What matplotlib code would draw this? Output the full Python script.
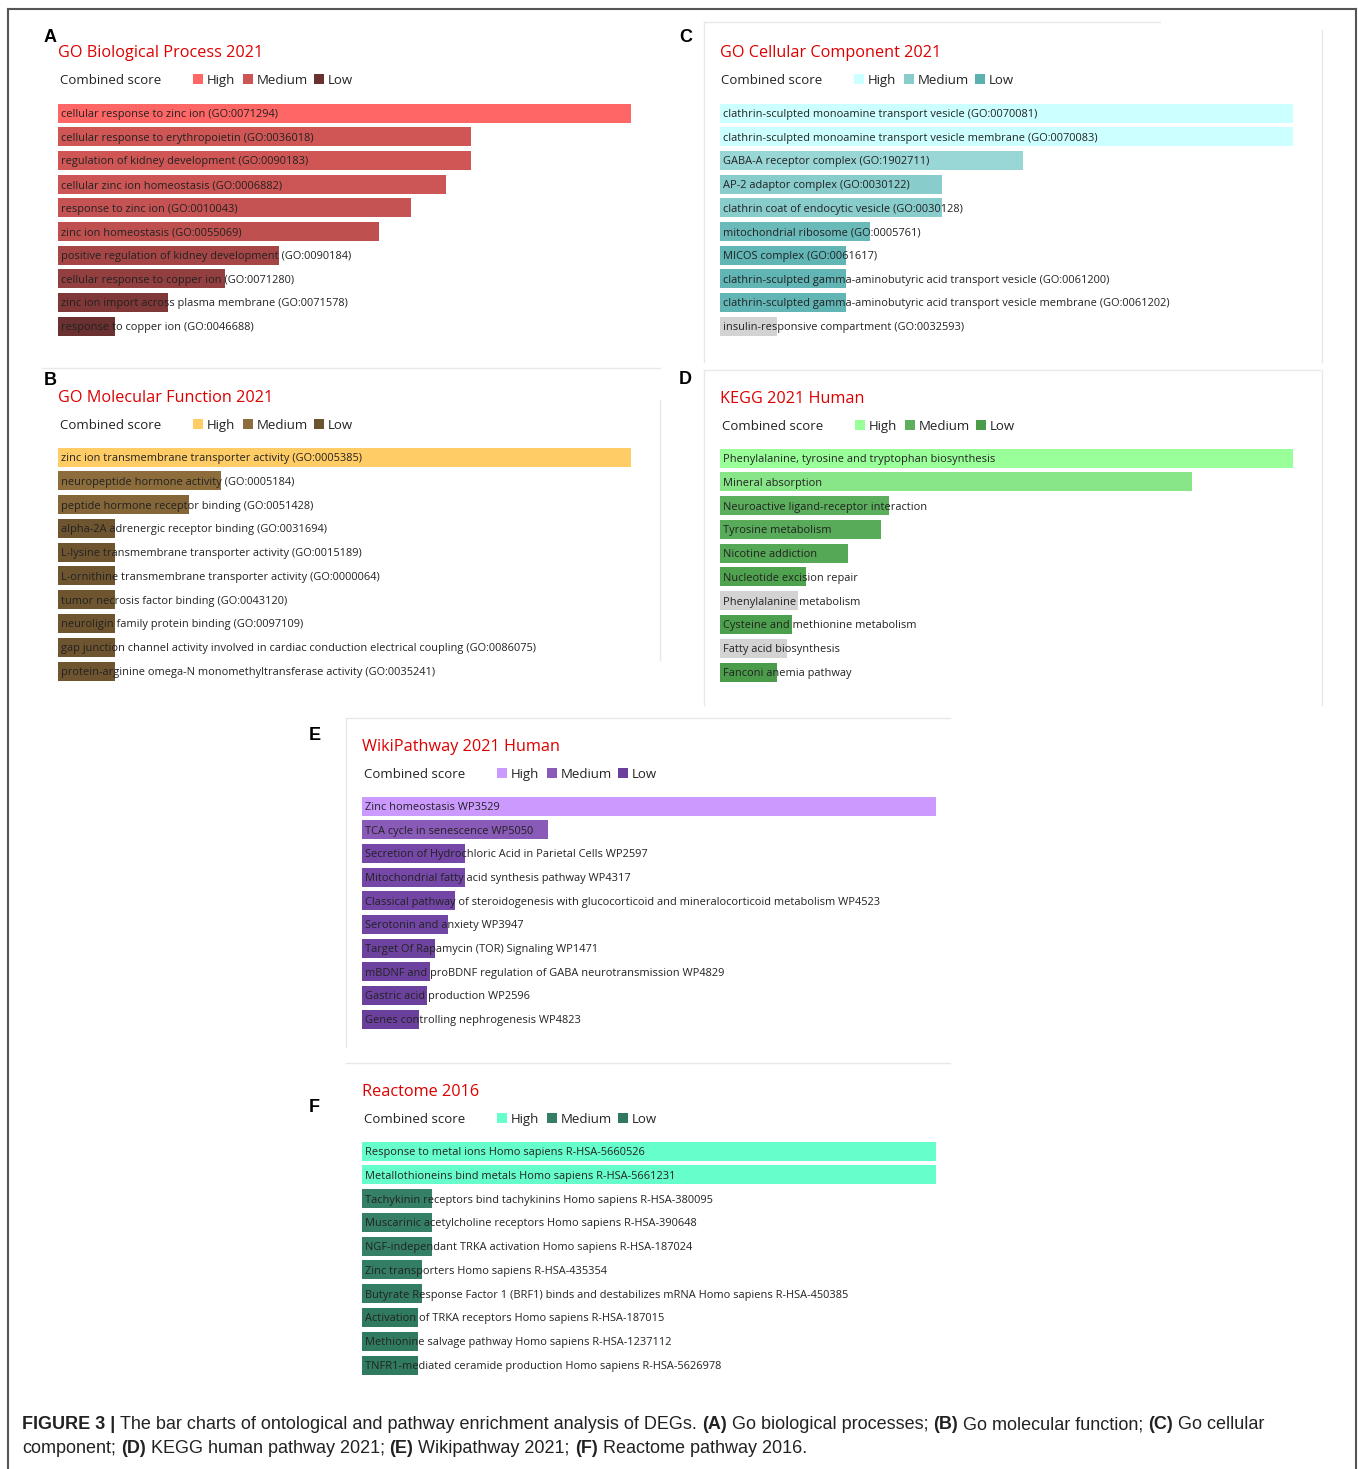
import matplotlib
matplotlib.use('Agg')
import matplotlib.pyplot as plt
from matplotlib import font_manager
from matplotlib.patches import Rectangle
from matplotlib.lines import Line2D

W, H = 1358, 1469
installed = {f.name for f in font_manager.fontManager.ttflist}
labelFont = 'Liberation Sans Narrow' if 'Liberation Sans Narrow' in installed else 'Open Sans'
capFont = 'Liberation Sans'
titleRed = '#DD0000'
textCol = '#222222'

# GO Biological Process 2021 (combined score, relative to top term)
bpTerms = ['cellular response to zinc ion (GO:0071294)',
           'cellular response to erythropoietin (GO:0036018)',
           'regulation of kidney development (GO:0090183)',
           'cellular zinc ion homeostasis (GO:0006882)',
           'response to zinc ion (GO:0010043)',
           'zinc ion homeostasis (GO:0055069)',
           'positive regulation of kidney development (GO:0090184)',
           'cellular response to copper ion (GO:0071280)',
           'zinc ion import across plasma membrane (GO:0071578)',
           'response to copper ion (GO:0046688)']
bpScores = [100, 72.1, 72.1, 67.7, 61.6, 56.0, 38.6, 29.1, 19.2, 9.9]
bpColors = ['#FF6666', '#D05656', '#D05656', '#CC5555', '#C65353', '#BF5050',
            '#A54545', '#933F3F', '#7F3737', '#6B3030']
bpLegend = ['#FF6666', '#CC5555', '#6B3030']

# GO Molecular Function 2021
mfTerms = ['zinc ion transmembrane transporter activity (GO:0005385)',
           'neuropeptide hormone activity (GO:0005184)',
           'peptide hormone receptor binding (GO:0051428)',
           'alpha-2A adrenergic receptor binding (GO:0031694)',
           'L-lysine transmembrane transporter activity (GO:0015189)',
           'L-ornithine transmembrane transporter activity (GO:0000064)',
           'tumor necrosis factor binding (GO:0043120)',
           'neuroligin family protein binding (GO:0097109)',
           'gap junction channel activity involved in cardiac conduction electrical coupling (GO:0086075)',
           'protein-arginine omega-N monomethyltransferase activity (GO:0035241)']
mfScores = [100, 28.4, 22.9, 9.9, 9.9, 9.9, 9.9, 9.9, 9.9, 9.9]
mfColors = ['#FFCC66', '#8C6D3B', '#846638', '#6E5530', '#6E5530', '#6E5530',
            '#6E5530', '#6E5530', '#6E5530', '#6E5530']
mfLegend = ['#FFCC66', '#8C6D3B', '#6B5430']

# GO Cellular Component 2021
ccTerms = ['clathrin-sculpted monoamine transport vesicle (GO:0070081)',
           'clathrin-sculpted monoamine transport vesicle membrane (GO:0070083)',
           'GABA-A receptor complex (GO:1902711)',
           'AP-2 adaptor complex (GO:0030122)',
           'clathrin coat of endocytic vesicle (GO:0030128)',
           'mitochondrial ribosome (GO:0005761)',
           'MICOS complex (GO:0061617)',
           'clathrin-sculpted gamma-aminobutyric acid transport vesicle (GO:0061200)',
           'clathrin-sculpted gamma-aminobutyric acid transport vesicle membrane (GO:0061202)',
           'insulin-responsive compartment (GO:0032593)']
ccScores = [100, 100, 52.9, 38.7, 38.7, 26.2, 22.0, 22.0, 22.0, 9.9]
ccColors = ['#CCFFFF', '#CCFFFF', '#99D6D6', '#88CCCC', '#88CCCC', '#6BBABA',
            '#62B5B5', '#62B5B5', '#62B5B5', '#D3D3D3']
ccLegend = ['#CCFFFF', '#88CCCC', '#5BB0B0']

# KEGG 2021 Human
kgTerms = ['Phenylalanine, tyrosine and tryptophan biosynthesis',
           'Mineral absorption',
           'Neuroactive ligand-receptor interaction',
           'Tyrosine metabolism',
           'Nicotine addiction',
           'Nucleotide excision repair',
           'Phenylalanine metabolism',
           'Cysteine and methionine metabolism',
           'Fatty acid biosynthesis',
           'Fanconi anemia pathway']
kgScores = [100, 82.4, 29.5, 28.1, 22.3, 15.0, 13.6, 12.6, 11.7, 9.9]
kgColors = ['#99FF99', '#88E588', '#5CAF5C', '#58AB58', '#55A855', '#4FA34F',
            '#D3D3D3', '#4C9F4C', '#D3D3D3', '#4A9C4A']
kgLegend = ['#99FF99', '#5CAF5C', '#4A9C4A']

# WikiPathway 2021 Human
wpTerms = ['Zinc homeostasis WP3529',
           'TCA cycle in senescence WP5050',
           'Secretion of Hydrochloric Acid in Parietal Cells WP2597',
           'Mitochondrial fatty acid synthesis pathway WP4317',
           'Classical pathway of steroidogenesis with glucocorticoid and mineralocorticoid metabolism WP4523',
           'Serotonin and anxiety WP3947',
           'Target Of Rapamycin (TOR) Signaling WP1471',
           'mBDNF and proBDNF regulation of GABA neurotransmission WP4829',
           'Gastric acid production WP2596',
           'Genes controlling nephrogenesis WP4823']
wpScores = [100, 32.4, 17.9, 17.9, 16.2, 15.0, 12.7, 11.8, 11.3, 9.9]
wpColors = ['#CC99FF', '#8A5AB8', '#7548A8', '#7548A8', '#7346A6', '#7145A4',
            '#6E43A0', '#6D429F', '#6C419E', '#6B409D']
wpLegend = ['#CC99FF', '#8A5AB8', '#6B409D']

# Reactome 2016
rcTerms = ['Response to metal ions Homo sapiens R-HSA-5660526',
           'Metallothioneins bind metals Homo sapiens R-HSA-5661231',
           'Tachykinin receptors bind tachykinins Homo sapiens R-HSA-380095',
           'Muscarinic acetylcholine receptors Homo sapiens R-HSA-390648',
           'NGF-independant TRKA activation Homo sapiens R-HSA-187024',
           'Zinc transporters Homo sapiens R-HSA-435354',
           'Butyrate Response Factor 1 (BRF1) binds and destabilizes mRNA Homo sapiens R-HSA-450385',
           'Activation of TRKA receptors Homo sapiens R-HSA-187015',
           'Methionine salvage pathway Homo sapiens R-HSA-1237112',
           'TNFR1-mediated ceramide production Homo sapiens R-HSA-5626978']
rcScores = [100, 100, 12.2, 12.2, 12.2, 10.5, 10.5, 9.8, 9.8, 9.8]
rcColors = ['#66FFCC', '#66FFCC', '#347F65', '#347F65', '#347F65', '#327D63',
            '#327D63', '#307B60', '#307B60', '#307B60']
rcLegend = ['#66FFCC', '#347F65', '#2F7A5E']

captionLine1 = [('FIGURE 3 |', True),
                (' The bar charts of ontological and pathway enrichment analysis of DEGs. ', False),
                ('(A)', True), (' Go biological processes; ', False),
                ('(B)', True), (' Go molecular function; ', False),
                ('(C)', True), (' Go cellular', False)]
captionLine2 = [('component; ', False), ('(D)', True), (' KEGG human pathway 2021; ', False),
                ('(E)', True), (' Wikipathway 2021; ', False),
                ('(F)', True), (' Reactome pathway 2016.', False)]


fig = plt.figure(figsize=(W / 100, H / 100), dpi=100)
fig.patch.set_facecolor('white')
renderer = fig.canvas.get_renderer()


def fx(x):
    return x / W


def fy(y):
    return 1 - y / H


def px_width(s, size, **kw):
    t = fig.text(0, 0, s, fontsize=size, **kw)
    w = t.get_window_extent(renderer).width
    t.remove()
    return w


def fit_size(s, target, **kw):
    return 10 * target / px_width(s, 10, **kw)


def fline(xs, ys, c='#E8E8E8', lw=1.0):
    fig.add_artist(Line2D([fx(v) for v in xs], [fy(v) for v in ys], color=c, lw=lw))


labelSize = fit_size('cellular response to zinc ion (GO:0071294)', 215, family=labelFont)
titleSize = fit_size('GO Biological Process 2021', 204, family=labelFont)
keySize = fit_size('Combined score', 100, family=labelFont)
letterSize = 13


def draw_panel(letter, lx, ly, title, x0, x1, tx, ty, cx, cy, rowTop, rowBot,
               terms, scores, colors, legend):
    fig.text(fx(lx), fy(ly + 7), letter, family=capFont, fontweight='bold',
             fontsize=letterSize, va='baseline', color='black')
    fig.text(fx(tx), fy(ty + 7), title, family=labelFont, color=titleRed,
             fontsize=titleSize, va='baseline')
    fig.text(fx(cx), fy(cy + 5), 'Combined score', family=labelFont, color=textCol,
             fontsize=keySize, va='baseline')
    for off, name, c in zip([133, 183, 254], ['High', 'Medium', 'Low'], legend):
        fig.add_artist(Rectangle((fx(cx + off), fy(cy + 5)), 10 / W, 10 / H,
                                 transform=fig.transFigure, facecolor=c, edgecolor='none'))
        fig.text(fx(cx + off + 14), fy(cy + 5), name, family=labelFont, color=textCol,
                 fontsize=keySize, va='baseline')

    pitch = (rowBot - rowTop) / (len(terms) - 1)
    ax = fig.add_axes([fx(x0), fy(rowBot + pitch / 2), (x1 - x0) / W,
                       (rowBot - rowTop + pitch) / H])
    ax.barh(range(len(terms)), scores, height=19 / pitch, color=colors)
    ax.set_xlim(0, max(scores))
    ax.set_ylim(len(terms) - 0.5, -0.5)
    ax.axis('off')
    for i, term in enumerate(terms):
        ax.annotate(term, (0, i), xytext=(3 * 0.72, -4 * 0.72), textcoords='offset points',
                    fontsize=labelSize, family=labelFont, color=textCol,
                    va='baseline', ha='left', annotation_clip=False)


# faint panel frames
fline([704, 1160], [22, 22])
fline([704, 704], [22, 362])
fline([1322, 1322], [30, 362])
fline([42, 660], [368, 368])
fline([660, 660], [400, 660])
fline([704, 1320], [370, 370])
fline([704, 704], [370, 705])
fline([1322, 1322], [370, 705])
fline([346, 950], [718, 718])
fline([346, 346], [718, 1047])
fline([346, 950], [1063, 1063])

draw_panel('A', 44, 35, 'GO Biological Process 2021', 58, 631, 58, 50, 60, 79, 113, 326,
           bpTerms, bpScores, bpColors, bpLegend)
draw_panel('B', 44, 378, 'GO Molecular Function 2021', 58, 631, 58, 395, 60, 424, 457, 671,
           mfTerms, mfScores, mfColors, mfLegend)
draw_panel('C', 679, 35, 'GO Cellular Component 2021', 720, 1293, 720, 50, 721, 79, 113, 326,
           ccTerms, ccScores, ccColors, ccLegend)
draw_panel('D', 679, 377, 'KEGG 2021 Human', 720, 1293, 720, 396, 722, 425, 458, 672,
           kgTerms, kgScores, kgColors, kgLegend)
draw_panel('E', 309, 733, 'WikiPathway 2021 Human', 362, 936, 362, 744, 364, 773, 806, 1019,
           wpTerms, wpScores, wpColors, wpLegend)
draw_panel('F', 309, 1105, 'Reactome 2016', 362, 936, 362, 1089, 364, 1118, 1151, 1365,
           rcTerms, rcScores, rcColors, rcLegend)


# caption, mixed bold / regular runs placed one after another
def caption_line(segs, x, yb, size, draw=True):
    space = px_width('a a', size, family=capFont) - px_width('aa', size, family=capFont)
    for text, bold in segs:
        lead = len(text) - len(text.lstrip(' '))
        trail = len(text) - len(text.rstrip(' '))
        x += lead * space
        core = text.strip()
        wt = 'bold' if bold else 'normal'
        w = px_width(core, size, family=capFont, fontweight=wt)
        if draw:
            fig.text(fx(x), fy(yb), core, family=capFont, fontweight=wt, fontsize=size,
                     color=textCol, va='baseline')
        x += w + trail * space
    return x


capSize = 10 * 1243 / caption_line(captionLine1, 0, 0, 10, draw=False)
caption_line(captionLine1, 22, 1429, capSize)
caption_line(captionLine2, 22, 1453, capSize)

# outer frame
fline([8, 8], [9, 1469], c='#555555', lw=1.5)
fline([8, 1356], [9, 9], c='#555555', lw=1.5)
fline([1356, 1356], [9, 1469], c='#555555', lw=1.5)

fig.savefig('out.png', dpi=100, facecolor='white')
